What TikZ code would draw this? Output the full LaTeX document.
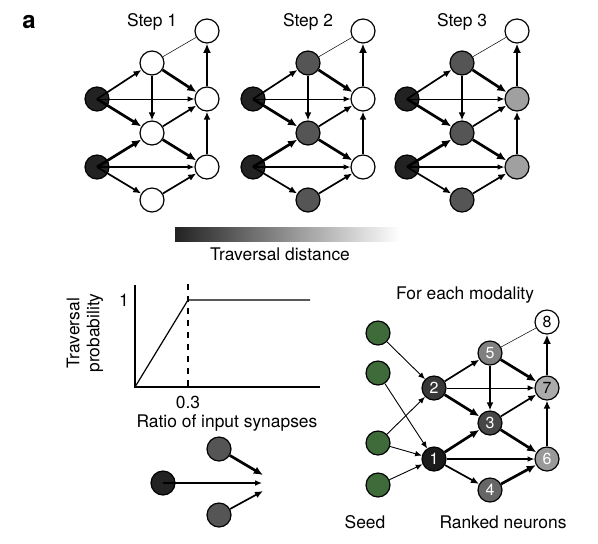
\documentclass[tikz,border=0pt]{standalone}
\usepackage{fontspec}
\setmainfont{TeX Gyre Heros}
\usetikzlibrary{arrows.meta}
\definecolor{nblack}{HTML}{222222}
\definecolor{ndark}{HTML}{555555}
\definecolor{nlight}{HTML}{A0A0A0}
\definecolor{seedgreen}{HTML}{3F6B3A}
\begin{document}
\begin{tikzpicture}
	[x=0.5pt, y=-0.5pt,
	every node/.style={font=\fontsize{8.7}{10}\selectfont},
	neuron/.style={circle, draw, line width=0.6pt, minimum size=12pt, inner sep=0pt, font=\fontsize{8}{9}\selectfont},
	thin edge/.style={-{Latex[length=3.4pt,width=2.8pt]}, line width=0.45pt},
	mid edge/.style={-{Latex[length=4pt,width=3.4pt]}, line width=0.85pt},
	thick edge/.style={-{Latex[length=4.6pt,width=4pt]}, line width=1.35pt},
	faint/.style={line width=0.25pt}]
	\useasboundingbox (0,0) rectangle (598,543);
	\node[font=\bfseries\fontsize{12}{14}\selectfont] (panel) at (29,22) {a};
	\foreach \s/\dx/\cu/\cr in {1/0/white/white, 2/156/ndark/white, 3/310/ndark/nlight}
	{
		\node (step\s) at (152+\dx,22) {Step \s};
		\node[neuron, fill=white] (top\s) at (207+\dx,31) {};
		\node[neuron, fill=\cu] (up\s) at (152+\dx,63) {};
		\node[neuron, fill=nblack] (srcA\s) at (97+\dx,99) {};
		\node[neuron, fill=\cr] (rightA\s) at (207+\dx,99) {};
		\node[neuron, fill=\cu] (mid\s) at (152+\dx,133) {};
		\node[neuron, fill=nblack] (srcB\s) at (97+\dx,167) {};
		\node[neuron, fill=\cr] (rightB\s) at (207+\dx,167) {};
		\node[neuron, fill=\cu] (low\s) at (152+\dx,200) {};
		\draw[faint] (up\s) -- (top\s);
		\draw[mid edge] (srcA\s.center) -- (up\s);
		\draw[thick edge] (srcA\s.center) -- (mid\s);
		\draw[thin edge] (srcA\s.center) -- (rightA\s);
		\draw[mid edge] (up\s) -- (mid\s);
		\draw[thick edge] (up\s) -- (rightA\s);
		\draw[mid edge] (mid\s) -- (rightA\s);
		\draw[thick edge] (mid\s) -- (rightB\s);
		\draw[thick edge] (srcB\s.center) -- (mid\s);
		\draw[thin edge, line width=0.6pt] (srcB\s.center) -- (rightB\s);
		\draw[mid edge] (srcB\s.center) -- (low\s);
		\draw[mid edge] (low\s) -- (rightB\s);
		\draw[mid edge] (rightB\s) -- (rightA\s);
		\draw[thick edge] (rightA\s) -- (top\s);
	}
	\shade[left color=nblack, right color=white] (175,227) rectangle (400,241);
	\node (dist) at (280,254) {Traversal distance};
	\draw[line width=0.6pt] (135,285) -- (135,387) -- (320,387);
	\draw[dashed, line width=0.6pt] (188,284) -- (188,387);
	\draw[line width=0.6pt] (135,387) -- (188,300) -- (310,300);
	\node (one) at (124,300) {1};
	\node (tick) at (188,402) {0.3};
	\node (xlab) at (227,423) {Ratio of input synapses};
	\node[rotate=90, align=center] (ylab) at (85,333) {Traversal\\probability};
	\node[neuron, fill=nblack] (in) at (163,483) {};
	\node[neuron, fill=ndark] (inU) at (219,449) {};
	\node[neuron, fill=ndark] (inL) at (219,515) {};
	\coordinate (sum) at (262,483);
	\coordinate (sumU) at (263,475);
	\coordinate (sumL) at (263,491);
	\draw[thin edge, line width=0.6pt] (in.center) -- (sum);
	\draw[thick edge] (inU) -- (sumU);
	\draw[mid edge] (inL) -- (sumL);
	\node (modality) at (465,295) {For each modality};
	\foreach \i/\y in {1/333, 2/373, 3/443, 4/485}
	{
		\node[neuron, fill=seedgreen] (seed\i) at (378,\y) {};
	}
	\node[neuron, fill=nblack!80!black, text=white] (n1) at (434,459) {1};
	\node[neuron, fill=black!78, text=white] (n2) at (434,388) {2};
	\node[neuron, fill=black!72, text=white] (n3) at (490,423) {3};
	\node[neuron, fill=black!60, text=white] (n4) at (490,490) {4};
	\node[neuron, fill=black!50, text=white] (n5) at (490,353) {5};
	\node[neuron, fill=black!40, text=white] (n6) at (547,459) {6};
	\node[neuron, fill=black!33] (n7) at (547,388) {7};
	\node[neuron, fill=white] (n8) at (547,322) {8};
	\draw[thin edge] (seed1) -- (n2);
	\draw[thin edge] (seed2) -- (n1);
	\draw[thin edge] (seed3) -- (n2);
	\draw[thin edge] (seed3) -- (n1);
	\draw[thin edge] (seed4) -- (n1);
	\draw[mid edge] (n2) -- (n5);
	\draw[thin edge] (n2) -- (n7);
	\draw[thick edge] (n2) -- (n3);
	\draw[thick edge] (n1) -- (n3);
	\draw[thin edge, line width=0.6pt] (n1) -- (n6);
	\draw[mid edge] (n1) -- (n4);
	\draw[mid edge] (n5) -- (n3);
	\draw[thick edge] (n5) -- (n7);
	\draw[faint] (n5) -- (n8);
	\draw[mid edge] (n3) -- (n7);
	\draw[thick edge] (n3) -- (n6);
	\draw[thick edge] (n4) -- (n6);
	\draw[mid edge] (n6) -- (n7);
	\draw[thick edge] (n7) -- (n8);
	\node (seedlab) at (365,522) {Seed};
	\node (ranked) at (503,522) {Ranked neurons};
\end{tikzpicture}
\end{document}
